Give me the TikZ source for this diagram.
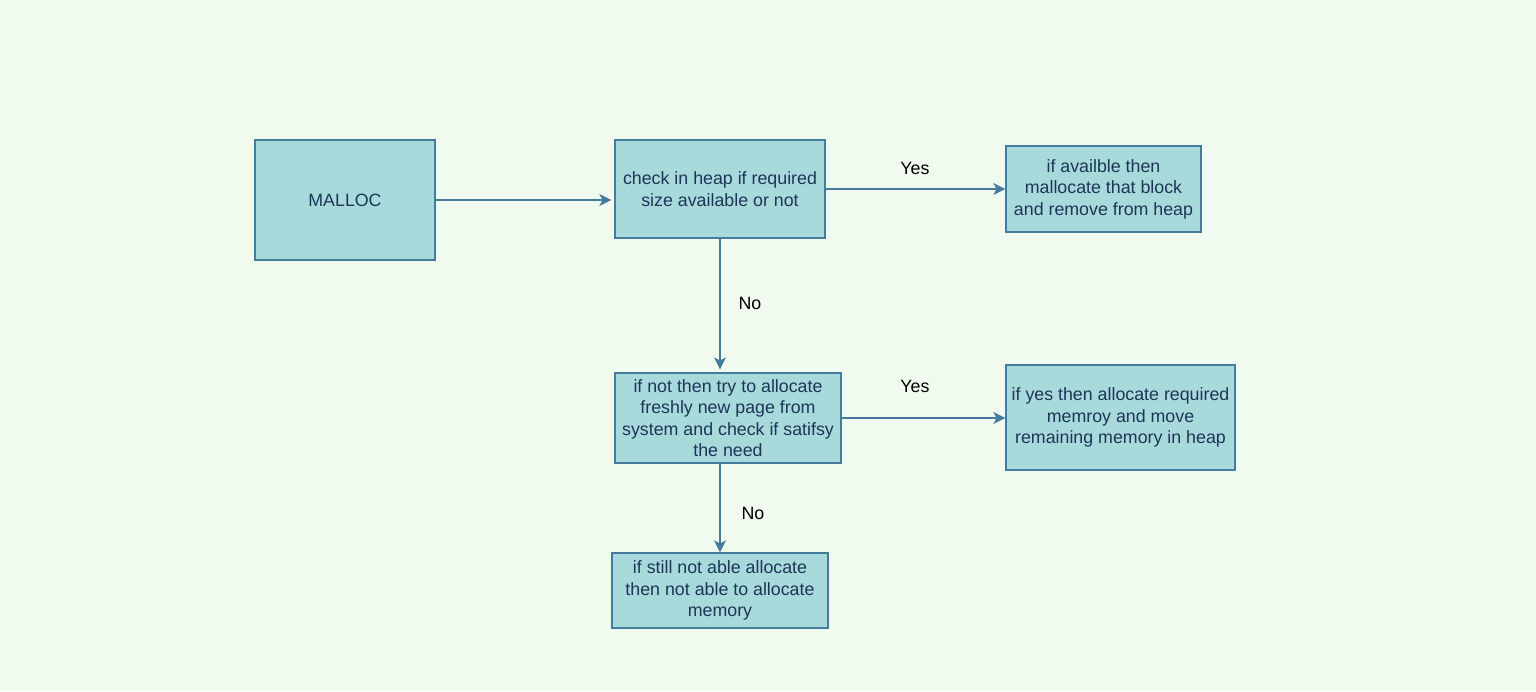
\documentclass[tikz,border=0pt]{standalone}
\usepackage{fontspec}
\setmainfont{Liberation Sans}
\usepackage{tikz}
\usetikzlibrary{arrows.meta,positioning,calc}
\definecolor{bgpaper}{HTML}{F1FAEE}
\definecolor{boxfill}{HTML}{A8DADC}
\definecolor{boxline}{HTML}{457B9D}
\definecolor{boxtext}{HTML}{1D3557}

\begin{document}
\begin{tikzpicture}[
 x=1pt,y=-1pt,
 font=\fontsize{17.8}{21.5}\selectfont,
 box/.style={draw=boxline,fill=boxfill,text=boxtext,line width=1.2pt,align=center,inner sep=0pt},
 lbl/.style={text=black,inner sep=0pt},
 arr/.style={-{Stealth[length=12pt,width=12pt,inset=3pt]},line width=1.2pt,draw=boxline}
]
\useasboundingbox[fill=bgpaper] (0,0) rectangle (1536,691);
\node[box,minimum width=180pt,minimum height=120pt] (malloc) at (345,200) {MALLOC};
\node[box,minimum width=210pt,minimum height=98pt] (check) at (720,189) {check in heap if required\\size available or not};
\node[box,minimum width=195pt,minimum height=86pt] (avail) at (1103.5,189) {if availble then\\mallocate that block\\and remove from heap};
\node[box,minimum width=226pt,minimum height=90pt] (fresh) at (728,418) {if not then try to allocate\\freshly new page from\\system and check if satifsy\\the need};
\node[box,minimum width=229pt,minimum height=105pt] (gotit) at (1120.5,417.5) {if yes then allocate required\\memroy and move\\remaining memory in heap};
\node[box,minimum width=216pt,minimum height=75pt] (fail) at (720,590.5) {if still not able allocate\\then not able to allocate\\memory};
\node[lbl] (yesA) at (915,168) {Yes};
\node[lbl] (noA) at (750,303) {No};
\node[lbl] (yesB) at (915,386) {Yes};
\node[lbl] (noB) at (753,513) {No};
\draw[arr,shorten >=3pt] (malloc.east) -- (check.west |- malloc.east);
\draw[arr] (check) -- (avail);
\draw[arr,shorten >=3pt] (check.south) -- (check.south |- fresh.north);
\draw[arr] (fresh.east) -- (gotit.west |- fresh.east);
\draw[arr] (fail.north |- fresh.south) -- (fail.north);
\end{tikzpicture}
\end{document}
